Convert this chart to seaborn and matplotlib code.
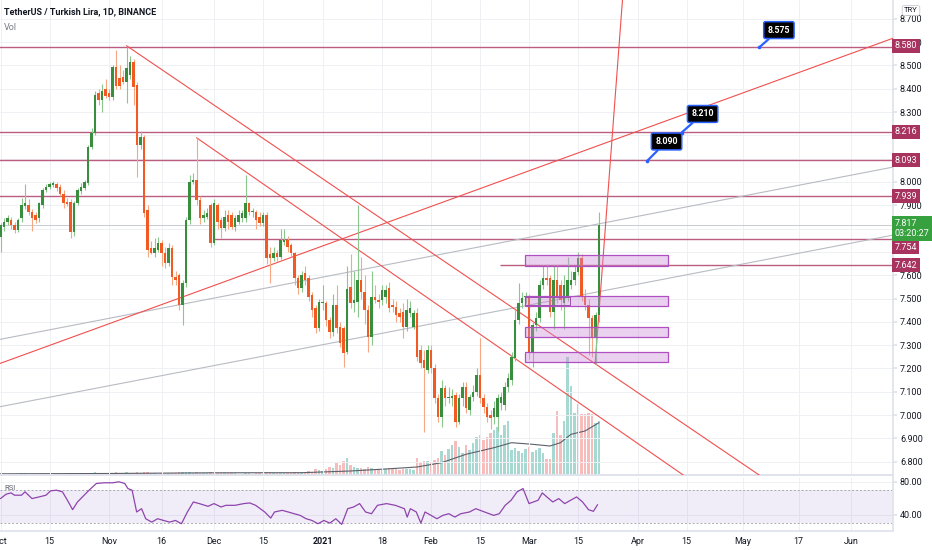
import matplotlib
matplotlib.use("Agg")
import numpy as np
import matplotlib.pyplot as plt
import matplotlib.transforms as mtransforms
from matplotlib.patches import Rectangle
import seaborn as sns

# ---------------- data (day index 0 = 2020-10-01) ----------------
opens = [7.765,7.808,7.830,7.837,7.815,7.794,7.844,7.897,7.901,7.872,
7.858,7.844,7.901,7.966,7.980,7.987,7.990,7.980,7.950,7.915,
7.915,7.787,7.908,7.960,7.973,7.994,8.152,8.211,8.380,8.350,
8.400,8.380,8.365,8.495,8.445,8.452,8.430,8.460,8.517,8.416,
8.159,8.194,7.880,7.715,7.695,7.708,7.737,7.694,7.651,7.715,
7.594,7.600,7.472,7.565,7.837,8.000,8.009,7.923,7.844,7.851,
7.900,7.737,7.901,7.837,7.801,7.858,7.858,7.808,7.830,7.844,
7.844,7.908,7.872,7.872,7.851,7.823,7.858,7.690,7.675,7.694,
7.679,7.744,7.751,7.729,7.694,7.587,7.544,7.608,7.587,7.515,
7.458,7.372,7.479,7.479,7.408,7.357,7.472,7.379,7.372,7.270,
7.550,7.479,7.486,7.579,7.529,7.451,7.336,7.508,7.494,7.494,
7.508,7.544,7.472,7.465,7.436,7.440,7.379,7.436,7.379,7.439,
7.279,7.236,7.193,7.279,7.200,7.072,6.993,7.115,7.072,7.075,
7.086,6.971,7.072,7.122,7.021,7.079,7.100,7.172,7.072,7.036,
7.000,6.993,6.993,7.050,7.043,7.122,7.150,7.243,7.408,7.479,
7.505,7.508,7.272,7.386,7.415,7.558,7.587,7.587,7.443,7.579,
7.558,7.479,7.508,7.558,7.579,7.615,7.672,7.508,7.472,7.415,
7.329,7.429]

highs = [7.825,7.845,7.860,7.850,7.830,7.845,7.930,7.990,7.925,7.885,
7.870,7.915,7.975,7.990,8.000,8.005,8.000,7.990,7.965,7.930,
7.925,7.920,7.975,7.995,8.010,8.160,8.230,8.390,8.400,8.420,
8.440,8.400,8.500,8.567,8.500,8.480,8.580,8.540,8.530,8.430,
8.220,8.200,7.900,7.745,7.760,7.765,7.750,7.720,7.740,7.730,
7.620,7.610,7.580,7.850,8.030,8.040,8.190,7.940,7.880,7.890,
7.910,7.925,7.910,7.850,7.880,7.880,7.870,7.860,7.880,7.880,
8.030,7.915,7.890,7.880,7.870,7.870,7.870,7.720,7.720,7.710,
7.800,7.800,7.770,7.740,7.700,7.600,7.620,7.640,7.600,7.530,
7.470,7.500,7.560,7.490,7.420,7.520,7.560,7.400,7.380,7.640,
7.690,7.620,7.900,7.680,7.600,7.470,7.620,7.560,7.520,7.560,
7.560,7.570,7.500,7.490,7.460,7.480,7.500,7.490,7.450,7.460,
7.300,7.280,7.300,7.300,7.220,7.090,7.150,7.130,7.120,7.110,
7.100,7.090,7.140,7.140,7.090,7.130,7.200,7.329,7.090,7.050,
7.020,7.060,7.090,7.100,7.140,7.180,7.270,7.450,7.565,7.530,
7.530,7.520,7.400,7.440,7.580,7.644,7.650,7.600,7.644,7.650,
7.580,7.600,7.680,7.620,7.640,7.700,7.690,7.540,7.500,7.430,
7.440,7.873]

lows = [7.700,7.790,7.815,7.800,7.780,7.785,7.830,7.885,7.860,7.790,
7.825,7.830,7.890,7.955,7.970,7.980,7.960,7.940,7.890,7.895,
7.760,7.770,7.900,7.950,7.965,7.985,8.140,8.200,8.330,8.300,
8.360,8.350,8.350,8.400,8.400,8.420,8.340,8.440,8.330,8.020,
8.140,7.850,7.680,7.690,7.680,7.700,7.640,7.630,7.640,7.560,
7.560,7.450,7.386,7.550,7.820,7.990,7.900,7.820,7.830,7.840,
7.720,7.730,7.800,7.760,7.790,7.800,7.800,7.790,7.820,7.830,
7.830,7.860,7.850,7.800,7.810,7.810,7.650,7.566,7.660,7.660,
7.670,7.730,7.700,7.680,7.560,7.520,7.530,7.560,7.490,7.420,
7.350,7.360,7.450,7.380,7.330,7.340,7.350,7.290,7.206,7.260,
7.460,7.440,7.420,7.500,7.390,7.270,7.300,7.480,7.460,7.470,
7.480,7.440,7.440,7.400,7.400,7.330,7.360,7.420,7.370,7.230,
7.200,6.927,7.180,7.180,7.050,6.970,6.950,7.040,7.050,7.040,
6.950,6.960,7.040,7.010,7.000,7.060,7.080,7.050,7.010,6.970,
6.940,6.960,6.930,7.020,7.020,7.100,7.130,7.230,7.390,7.460,
7.480,7.240,7.207,7.360,7.400,7.540,7.560,7.420,7.370,7.480,
7.450,7.370,7.490,7.540,7.560,7.600,7.490,7.450,7.258,7.250,
7.220,7.400]

closes = [7.815,7.830,7.844,7.815,7.794,7.837,7.901,7.908,7.872,7.844,
7.835,7.908,7.966,7.980,7.990,7.994,7.973,7.950,7.908,7.905,
7.787,7.908,7.966,7.980,8.000,8.152,8.211,8.373,8.350,8.390,
8.370,8.365,8.495,8.410,8.410,8.430,8.488,8.517,8.409,8.159,
8.194,7.867,7.708,7.695,7.715,7.737,7.694,7.651,7.715,7.594,
7.579,7.472,7.565,7.837,8.000,8.009,7.923,7.844,7.858,7.865,
7.737,7.908,7.830,7.801,7.851,7.830,7.808,7.844,7.858,7.865,
7.908,7.872,7.875,7.837,7.823,7.858,7.674,7.675,7.694,7.680,
7.751,7.751,7.722,7.694,7.587,7.544,7.601,7.579,7.508,7.451,
7.372,7.486,7.486,7.408,7.357,7.472,7.372,7.308,7.265,7.540,
7.480,7.494,7.579,7.529,7.451,7.336,7.508,7.494,7.486,7.536,
7.536,7.458,7.465,7.429,7.422,7.379,7.451,7.458,7.439,7.250,
7.222,7.200,7.279,7.200,7.072,6.993,7.115,7.072,7.079,7.082,
6.971,7.072,7.122,7.029,7.079,7.100,7.172,7.072,7.036,6.993,
6.986,7.029,7.072,7.079,7.122,7.157,7.250,7.408,7.479,7.501,
7.508,7.272,7.386,7.415,7.558,7.587,7.579,7.443,7.579,7.508,
7.494,7.558,7.579,7.579,7.615,7.672,7.508,7.472,7.415,7.336,
7.429,7.815]

volumes = [1.5,1.2,1.0,1.3,1.1,1.4,2.0,1.8,1.5,1.3,1.2,1.4,1.8,1.5,1.2,1.1,1.3,1.2,1.5,1.3,
2.2,2.0,1.6,1.4,1.5,2.5,2.2,3.0,2.5,2.0,
1.8,1.6,2.5,3.0,2.2,1.8,3.0,2.5,2.4,3.5,2.2,3.2,3.0,2.0,1.6,1.5,1.8,1.7,1.6,2.0,
1.8,2.6,2.8,3.0,3.5,2.2,3.0,2.5,2.0,1.8,
2.6,2.5,2.0,1.8,1.7,1.6,1.8,1.6,1.5,1.5,2.5,2.0,1.5,1.8,1.6,1.5,3.0,2.8,2.0,1.8,
2.5,2.0,1.8,2.0,3.0,3.0,
3,2,4,3,6,5,4,6,8,7,12,10,14,17,10,8,7,7,6,8,7,6,6,5,6,7,6,6,5,6,6,6,5,17,
12,14,14,12,15,17,24,20,26,30,34,28,22,30,25,32,38,40,35,38,42,45,48,40,50,54,
25,27,24,22,26,28,23,25,27,22,16,16,42,64,40,54,118,89,62,71,61,61,62,61,52,54]

vol_ma_days = [0, 30, 60, 86, 100, 110, 119, 126, 133, 141, 146, 152, 157, 160, 163, 167, 171]
vol_ma_vals = [1.2, 1.5, 2.2, 2.3, 4.0, 6.0, 8.0, 12.3, 20.7, 27.3, 32.3, 30.7, 29.0, 32.3, 40.7, 44.0, 52.3]

rsi_days = [0,1.6,3,4,6,7,9,11,13,14.3,16,17.7,19.4,20.6,22,23.6,25.3,27.4,29.6,32.1,
33.8,35.5,36.4,37.6,38.9,40.3,41.5,43.2,44.9,46.6,48.3,50,51.7,53.4,55.1,56.8,59.3,61,63,64.4,
67,69.5,71.2,72.9,75.5,77.2,78.3,80.5,82.2,83.9,85.6,87.3,89,90.7,92.4,94.1,95.8,97.5,99.2,100.9,
102.6,104.3,106,107.7,110.3,112.8,115.4,116.2,117.1,118.8,120.1,121.3,123,124.7,126.4,128.1,129.8,131.5,134,135.8,
138.3,140.9,142.5,144.2,145.9,147.6,149.3,151,153.6,154.8,156.1,157.8,159.5,161.2,162.9,164.6,166.3,168,169.4,170.6]
rsi_vals = [59.6,64.9,66.5,63.7,63.7,67.8,59.6,61.6,63.7,69,69.8,67.8,55.5,46.1,55.5,62.4,69.8,78,78.8,78.8,
80,78,71.8,69.8,43.3,47.3,35.1,31,35.1,33,31,33,29,43.3,55.5,53.5,50.2,53.5,49.4,51.4,
51.4,53.5,54.3,51.4,43.3,35.9,43.3,45.3,43.3,41.2,39.2,35.1,33,29,33,29.8,35.1,28.2,47.3,49.4,
53.5,43.3,41.2,51.4,53.5,51.4,47.3,37.1,47.3,43.3,29.8,43.3,39.2,35.1,39.2,41.2,37.1,41.2,43.3,47.3,
43.3,39.2,41.2,51.4,57.6,67.8,71.8,53.5,57.6,66.5,61.6,55.5,59.6,53.5,57.6,61.6,55.5,46.1,44.1,52.2]

level_prices = [8.580, 8.216, 8.093, 7.939, 7.754, 7.642]
level_starts = [-1.0, -1.0, -1.0, -1.0, 60.7, 142.7]
level_label_pos = [8.584, 8.216, 8.093, 7.939, 7.721, 7.642]
last_price = 7.817
countdown = "03:20:27"

zone_bottoms = [7.641, 7.468, 7.336, 7.226]
zone_tops = [7.687, 7.511, 7.379, 7.269]
zone_start, zone_end = 149.9, 190.7

seg_x = [[36.0, 217.0], [56.0, 195.3], [169.9, 178.3]]
seg_y = [[8.585, 6.740], [8.190, 6.740], [7.222, 8.900]]
ray_red = [(0.0, 7.222), (255.0, 8.617)]
ray_gray = [[(0.0, 7.325), (255.0, 8.064)], [(0.0, 7.036), (255.0, 7.772)]]

callout_texts = ["8.575", "8.210", "8.090"]
callout_tips = [(216.8, 8.578), (194.6, 8.212), (184.8, 8.091)]
callout_boxes = [(222.4, 8.652), (200.6, 8.292), (190.3, 8.174)]

price_ticks = [6.8, 6.9, 7.0, 7.1, 7.2, 7.3, 7.4, 7.5, 7.6, 7.7, 7.8, 7.9,
               8.0, 8.1, 8.2, 8.3, 8.4, 8.5, 8.6, 8.7]
hidden_ticks = [7.7, 7.8, 8.1, 8.2]
tick_days = [0, 14, 31, 46, 61, 75, 92, 109, 123, 137, 151, 165, 182, 196, 212, 228, 243]
tick_labels = ["Oct", "15", "Nov", "16", "Dec", "15", "2021", "18", "Feb", "15",
               "Mar", "15", "Apr", "15", "May", "17", "Jun"]

# ---------------- style ----------------
sns.set_theme(style="white")
plt.rcParams['font.family'] = ['Roboto', 'DejaVu Sans']

UP, DN = "#388e3c", "#f15a22"
UP_W, DN_W = "#8cc68f", "#f6a784"
GRID = "#eef0f4"
BORDER = "#e0e3eb"
TXT = "#131722"
MAROON = "#a8335f"
LEVEL = "#bb5c80"
XMIN, XMAX = -0.143, 255.0

fig = plt.figure(figsize=(9.32, 5.5), dpi=100)
fig.patch.set_facecolor("white")
ax = fig.add_axes([0, 75/550, 893/932, 475/550])
ax_r = fig.add_axes([0, 19/550, 893/932, 54/550])

ax_v = ax.twinx()
ax_v.set_zorder(0)
ax.set_zorder(1)
ax.patch.set_visible(False)

d = np.arange(len(opens))
o, h, l, c = (np.array(a, dtype=float) for a in (opens, highs, lows, closes))
up = c >= o

# volume
vol = np.array(volumes, dtype=float)
ax_v.bar(d[up], vol[up], width=0.65, color="#a7d9d2", linewidth=0)
ax_v.bar(d[~up], vol[~up], width=0.65, color="#f7bcbc", linewidth=0)
sns.lineplot(x=vol_ma_days, y=vol_ma_vals, ax=ax_v, color="#5d606b", lw=0.8)
ax_v.set_ylim(0, 475)
ax_v.set_xlim(XMIN, XMAX)
ax_v.set_axis_off()

# grid & axes
ax.set_xlim(XMIN, XMAX)
ax.set_ylim(6.7425, 8.7811)
ax.set_yticks(price_ticks)
ax.set_yticklabels(["" if p in hidden_ticks else f"{p:.3f}" for p in price_ticks])
ax.yaxis.tick_right()
ax.set_xticks(tick_days)
ax.tick_params(axis='x', labelbottom=False, length=0)
ax.tick_params(axis='y', labelsize=6.5, labelcolor=TXT, length=3, color=BORDER, pad=2)
ax.grid(True, color=GRID, lw=0.7)
ax.set_axisbelow(True)
for s in ["top", "left"]:
    ax.spines[s].set_visible(False)
ax.spines["right"].set_color(BORDER)
ax.spines["bottom"].set_color(BORDER)
ax.spines["bottom"].set_linewidth(1.4)

# level lines
ax.hlines(level_prices, xmin=level_starts, xmax=XMAX + 5, color=LEVEL, lw=1.0, zorder=2.6)
ax.axhline(last_price, color="#c9ccd3", lw=0.7, zorder=2.5)

# trend lines
for (x1, y1), (x2, y2) in ray_gray:
    ax.axline((x1, y1), (x2, y2), color="#b8bbc3", lw=0.8, zorder=2.6)
ax.axline(ray_red[0], ray_red[1], color="#f0504e", lw=0.8, zorder=2.6)
for xs, ys in zip(seg_x, seg_y):
    ax.plot(xs, ys, color="#f0504e", lw=0.8, zorder=2.6)

# candles
ax.vlines(d[up], l[up], h[up], color=UP_W, lw=0.8, zorder=3)
ax.vlines(d[~up], l[~up], h[~up], color=DN_W, lw=0.8, zorder=3)
body_lo = np.minimum(o, c)
body_h = np.maximum(np.abs(c - o), 0.004)
ax.bar(d[up], body_h[up], bottom=body_lo[up], width=0.62, color=UP, linewidth=0, zorder=3.5)
ax.bar(d[~up], body_h[~up], bottom=body_lo[~up], width=0.62, color=DN, linewidth=0, zorder=3.5)

# zones
for b, t in zip(zone_bottoms, zone_tops):
    ax.add_patch(Rectangle((zone_start, b), zone_end - zone_start, t - b,
                           facecolor=(0.80, 0.55, 0.85, 0.40), edgecolor="#b04fc2", lw=0.9, zorder=4))
ax.add_patch(Rectangle((zone_start, 7.472), 12.8, 0.036, facecolor="none",
                       edgecolor="#9c4fb0", lw=0.7, zorder=4))

# callouts
for txt, tip, box in zip(callout_texts, callout_tips, callout_boxes):
    ax.annotate(txt, xy=tip, xytext=box, ha="center", va="center", color="white",
                fontsize=6.3, fontweight="bold", zorder=6,
                bbox=dict(boxstyle="round,pad=0.45,rounding_size=0.2", fc="black", ec="#2962ff", lw=1.1),
                arrowprops=dict(arrowstyle="-", color="#2962ff", lw=1.6, shrinkA=0, shrinkB=0))
    ax.plot([tip[0]], [tip[1]], marker="o", ms=1.6, color="#2962ff", zorder=6)

# price-scale labels
trans = mtransforms.blended_transform_factory(ax.transAxes, ax.transData)
for p, ypos in zip(level_prices, level_label_pos):
    ax.text(1.0 + 1.5/893, ypos, f"{p:.3f}", transform=trans, ha="left", va="center",
            fontsize=6.5, color="white", clip_on=False, zorder=10,
            bbox=dict(boxstyle="square,pad=0.28", fc=MAROON, ec="none"))
ax.text(1.0 + 1.5/893, 7.800, f"{last_price:.3f}\n{countdown}", transform=trans, ha="left",
        va="center", fontsize=6.5, color="white", clip_on=False, zorder=10, linespacing=1.25,
        bbox=dict(boxstyle="square,pad=0.3", fc="#37a03f", ec="none"))

ax.text(4/893, 1 - 12/475, "TetherUS / Turkish Lira, 1D, BINANCE", transform=ax.transAxes,
        fontsize=6.5, fontweight="bold", color=TXT, va="center", ha="left")
ax.text(4/893, 1 - 27/475, "Vol", transform=ax.transAxes, fontsize=6.5, color="#787b86",
        va="center", ha="left")
fig.text(911/932, 1 - 10.5/550, "TRY", fontsize=5.5, ha="center", va="center", color=TXT,
         bbox=dict(boxstyle="round,pad=0.25", fc="white", ec="#c8cad0", lw=0.6))

# RSI pane
ax_r.set_xlim(XMIN, XMAX)
ax_r.set_ylim(20.18, 85.84)
ax_r.axhspan(30, 70, color="#7e57c2", alpha=0.1, lw=0)
for lvl in (70, 30):
    ax_r.axhline(lvl, color="#9598a1", lw=0.7, ls=(0, (2, 2)), alpha=0.8)
sns.lineplot(x=rsi_days, y=rsi_vals, ax=ax_r, color="#8e44ad", lw=0.9)
ax_r.set_yticks([40, 80])
ax_r.set_yticklabels(["40.00", "80.00"])
ax_r.yaxis.tick_right()
ax_r.set_xticks(tick_days)
ax_r.set_xticklabels(tick_labels)
ax_r.tick_params(axis='x', labelsize=6.5, labelcolor=TXT, length=0, pad=4)
ax_r.tick_params(axis='y', labelsize=6.5, labelcolor=TXT, length=3, color=BORDER, pad=2)
for lbl in ax_r.get_xticklabels():
    if lbl.get_text() == "2021":
        lbl.set_fontweight("bold")
ax_r.grid(True, color=GRID, lw=0.7)
ax_r.set_axisbelow(True)
ax_r.set_xlabel("")
ax_r.set_ylabel("")
for s in ["top", "left"]:
    ax_r.spines[s].set_visible(False)
ax_r.spines["right"].set_color(BORDER)
ax_r.spines["bottom"].set_color(BORDER)
ax_r.text(4/893, 1 - 11/54, "RSI", transform=ax_r.transAxes, fontsize=5.5, color="#5d606b",
          va="center", ha="left")

fig.savefig("out.png", dpi=100)
